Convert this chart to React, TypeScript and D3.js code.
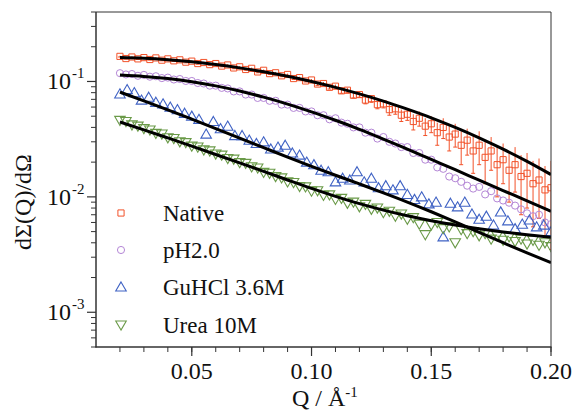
import React from "react";
import * as d3 from "d3";

// ---- data ----
const qFit = [0.02,0.03,0.04,0.05,0.06,0.07,0.08,0.09,0.10,0.11,0.12,0.13,0.14,0.15,0.16,0.17,0.18,0.19,0.20];
const nativeFit = [0.161,0.1589,0.1545,0.1483,0.1403,0.1312,0.1213,0.1109,0.100,0.0889,0.078,0.0675,0.0575,0.0484,0.040,0.0325,0.0259,0.0203,0.0156];
const ph2Fit = [0.1138,0.1107,0.1059,0.0995,0.0916,0.0826,0.0731,0.0637,0.0546,0.0461,0.0385,0.0317,0.0259,0.0211,0.0172,0.01396,0.01135,0.00923,0.0075];
const guhclFit = [0.0809,0.0679,0.0568,0.0472,0.0391,0.0323,0.0267,0.0221,0.0184,0.0154,0.01294,0.01084,0.00902,0.00743,0.00607,0.00493,0.00401,0.00327,0.00269];
const ureaFit = [0.0446,0.0381,0.0324,0.0275,0.0233,0.0197,0.01663,0.014,0.01183,0.0101,0.00873,0.00767,0.00685,0.00621,0.0057,0.0053,0.00497,0.00469,0.00446];

const qA = [0.02,0.0225,0.025,0.0275,0.03,0.0325,0.035,0.0375,0.04,0.0425,0.045,0.0475,0.05,0.0525,0.055,0.0575,0.06,0.0625,0.065,0.0675,0.07,0.0725,0.075,0.0775,0.08,0.0825,0.085,0.0875,0.09,0.0925,0.095,0.0975,0.1,0.1025,0.105,0.1075,0.11,0.1125,0.115,0.1175,0.12,0.1225,0.125,0.1275,0.13,0.1325,0.135,0.1375,0.14,0.1425,0.145,0.1475,0.15,0.1525,0.155,0.1575,0.16,0.1625,0.165,0.1675,0.17,0.1725,0.175,0.1775,0.18,0.1825,0.185,0.1875,0.19,0.1925,0.195,0.1975,0.2];
const qB = [0.02,0.023,0.026,0.029,0.032,0.035,0.038,0.041,0.044,0.047,0.05,0.053,0.056,0.059,0.062,0.065,0.068,0.071,0.074,0.077,0.08,0.083,0.086,0.089,0.092,0.095,0.098,0.101,0.104,0.107,0.11,0.113,0.116,0.119,0.122,0.125,0.128,0.131,0.134,0.137,0.14,0.143,0.146,0.149,0.152,0.155,0.158,0.161,0.164,0.167,0.17,0.173,0.176,0.179,0.182,0.185,0.188,0.191,0.194,0.197,0.2];

const nativeData = [0.165,0.158,0.163,0.157,0.161,0.155,0.160,0.153,0.157,0.151,0.154,0.147,0.150,0.143,0.146,0.140,0.143,0.136,0.139,0.131,0.134,0.127,0.130,0.121,0.125,0.117,0.119,0.112,0.115,0.106,0.108,0.101,0.103,0.095,0.096,0.089,0.091,0.083,0.084,0.076,0.077,0.069,0.071,0.063,0.064,0.057,0.058,0.051,0.052,0.045,0.048,0.041,0.043,0.036,0.040,0.033,0.035,0.028,0.031,0.025,0.028,0.022,0.025,0.019,0.021,0.017,0.019,0.015,0.016,0.013,0.014,0.0115,0.012];
const nativeErr = [0.002,0.002,0.002,0.002,0.002,0.002,0.002,0.002,0.002,0.002,0.002,0.002,0.002,0.002,0.002,0.002,0.002,0.002,0.002,0.002,0.002,0.002,0.002,0.002,0.002,0.002,0.002,0.002,0.002,0.002,0.002,0.002,0.002,0.003,0.003,0.003,0.003,0.004,0.004,0.004,0.004,0.005,0.005,0.005,0.005,0.006,0.006,0.006,0.006,0.007,0.007,0.007,0.007,0.008,0.008,0.008,0.008,0.009,0.008,0.009,0.009,0.009,0.008,0.009,0.008,0.008,0.008,0.008,0.008,0.0075,0.0075,0.007,0.0085];
const ph2Data = [0.118,0.115,0.116,0.112,0.114,0.110,0.111,0.107,0.108,0.104,0.105,0.101,0.101,0.097,0.096,0.092,0.092,0.088,0.087,0.082,0.082,0.077,0.077,0.072,0.072,0.068,0.068,0.063,0.063,0.059,0.059,0.055,0.055,0.051,0.051,0.047,0.048,0.044,0.043,0.040,0.040,0.036,0.036,0.032,0.033,0.030,0.029,0.027,0.027,0.024,0.024,0.021,0.021,0.018,0.0175,0.015,0.0145,0.0135,0.0125,0.0118,0.0122,0.0105,0.0112,0.0097,0.0093,0.0089,0.0084,0.0078,0.0072,0.0068,0.0070,0.0060,0.0058];
const guhclData = [0.078,0.085,0.080,0.069,0.073,0.066,0.064,0.060,0.057,0.053,0.050,0.047,0.035,0.045,0.039,0.041,0.034,0.034,0.031,0.029,0.030,0.026,0.027,0.028,0.024,0.023,0.020,0.019,0.017,0.0165,0.0135,0.0145,0.014,0.0165,0.0135,0.0145,0.012,0.0125,0.0115,0.0125,0.0105,0.0095,0.0100,0.0087,0.0090,0.0045,0.0088,0.0082,0.0090,0.0071,0.0064,0.0068,0.0057,0.0074,0.0062,0.0053,0.0058,0.0063,0.0055,0.0057,0.0050];
const ureaData = [0.046,0.045,0.042,0.041,0.039,0.038,0.0355,0.035,0.0325,0.032,0.030,0.0295,0.0275,0.027,0.0255,0.025,0.0235,0.023,0.0215,0.0212,0.0198,0.0195,0.0182,0.0178,0.0163,0.0160,0.0150,0.0146,0.0135,0.0133,0.0123,0.0122,0.0112,0.0113,0.0103,0.0104,0.0095,0.0097,0.0088,0.0090,0.0082,0.0086,0.0078,0.0080,0.0073,0.0075,0.0068,0.0071,0.0064,0.0066,0.0058,0.0047,0.0057,0.0060,0.0053,0.0055,0.0040,0.0052,0.0048,0.0050,0.0046,0.0048,0.0043,0.0046,0.0042,0.0045,0.0041,0.0043,0.0039,0.0042,0.0038,0.0040,0.0037];

const seriesNames = ["Native", "pH2.0", "GuHCl 3.6M", "Urea 10M"];
const seriesColors = ["#f2522a", "#b486d6", "#3f62c4", "#6a9a48"];
const xTicks = [0.05, 0.10, 0.15, 0.20];
const yTickExps = [-1, -2, -3];

const W = 574, H = 413;
const L = 96, R = 551, T = 12, B = 347;
const FONT = "Liberation Serif, DejaVu Serif, serif";
const TS = { fontFamily: FONT };

export default function App() {
  const x = d3.scaleLinear().domain([0.01, 0.2]).range([L, R]);
  const y = d3.scaleLog().domain([5e-4, 0.4]).range([B, T]);

  const line = d3.line<[number, number]>()
    .x((d) => x(d[0]))
    .y((d) => y(d[1]))
    .curve(d3.curveMonotoneX);

  const fits = [nativeFit, ph2Fit, guhclFit, ureaFit];

  const sym = (type: any, size: number) => d3.symbol().type(type).size(size)() as string;
  const squarePath = sym(d3.symbolSquare, 38);
  const circlePath = sym(d3.symbolCircle, 40);
  const triPath = sym(d3.symbolTriangle, 48);

  const markers = [
    (cx: number, cy: number, c: string, k: string) => (
      <path key={k} d={squarePath} transform={`translate(${cx},${cy})`} fill="none" stroke={c} strokeWidth={1} />
    ),
    (cx: number, cy: number, c: string, k: string) => (
      <path key={k} d={circlePath} transform={`translate(${cx},${cy})`} fill="none" stroke={c} strokeWidth={1} />
    ),
    (cx: number, cy: number, c: string, k: string) => (
      <path key={k} d={triPath} transform={`translate(${cx},${cy + 1})`} fill="none" stroke={c} strokeWidth={1.1} />
    ),
    (cx: number, cy: number, c: string, k: string) => (
      <path key={k} d={triPath} transform={`translate(${cx},${cy - 1}) rotate(180)`} fill="none" stroke={c} strokeWidth={1.1} />
    ),
  ];

  const xMinor = d3.range(2, 21).map((i) => i / 100);
  const yMinor: number[] = [];
  [1e-3, 1e-2, 1e-1].forEach((dec) => {
    for (let m = 2; m <= 9; m++) yMinor.push(m * dec);
  });
  yMinor.push(5e-4, 6e-4, 7e-4, 8e-4, 9e-4);
  const yMinorIn = yMinor.filter((v) => v >= 5e-4 && v <= 0.4001);

  const legendY = [213, 250, 287, 325];

  return (
    <svg width={W} height={H} style={{ position: "absolute", left: 0, top: 0, background: "#fff" }}>
      <rect x={0} y={0} width={W} height={H} fill="#fff" />
      <defs>
        <clipPath id="plotclip">
          <rect x={L} y={T} width={R - L} height={B - T} />
        </clipPath>
      </defs>

      <g clipPath="url(#plotclip)">
        {qA.map((q, i) => {
          const v = nativeData[i];
          const e = nativeErr[i];
          const lo = Math.max(v - e, 5e-4);
          const hi = v + e;
          const cx = x(q);
          return (
            <g key={"e" + i} stroke={seriesColors[0]} strokeWidth={1}>
              <line x1={cx} x2={cx} y1={y(lo)} y2={y(hi)} />
              <line x1={cx - 2} x2={cx + 2} y1={y(lo)} y2={y(lo)} />
            </g>
          );
        })}
        {qA.map((q, i) => markers[0](x(q), y(nativeData[i]), seriesColors[0], "n" + i))}
        {qA.map((q, i) => markers[1](x(q), y(ph2Data[i]), seriesColors[1], "p" + i))}
        {qB.map((q, i) => markers[2](x(q), y(guhclData[i]), seriesColors[2], "g" + i))}
        {qA.map((q, i) => markers[3](x(q), y(ureaData[i]), seriesColors[3], "u" + i))}

        {fits.map((f, k) => (
          <path key={"f" + k} d={line(qFit.map((q, i) => [q, f[i]] as [number, number])) as string}
            fill="none" stroke="#000" strokeWidth={3} />
        ))}
      </g>

      <line x1={L} x2={R} y1={T} y2={T} stroke="#333" strokeWidth={1} />
      <line x1={R} x2={R} y1={T} y2={B} stroke="#333" strokeWidth={1} />
      <line x1={L} x2={L} y1={T} y2={B + 0.5} stroke="#333" strokeWidth={1.5} />
      <line x1={L - 0.5} x2={R + 0.5} y1={B} y2={B} stroke="#333" strokeWidth={1.5} />

      {xMinor.map((q) => (
        <line key={"xm" + q} x1={x(q)} x2={x(q)} y1={B} y2={B + 5} stroke="#333" strokeWidth={1} />
      ))}
      {xTicks.map((q) => (
        <g key={"xt" + q}>
          <line x1={x(q)} x2={x(q)} y1={B} y2={B + 9} stroke="#333" strokeWidth={1.2} />
          <text x={x(q)} y={379} textAnchor="middle" fontSize={24} fill="#111" style={TS}>{q.toFixed(2)}</text>
        </g>
      ))}

      {yMinorIn.map((v, i) => (
        <line key={"ym" + i} x1={L - 5} x2={L} y1={y(v)} y2={y(v)} stroke="#333" strokeWidth={1} />
      ))}
      {yTickExps.map((e) => (
        <g key={"yt" + e}>
          <line x1={L - 9} x2={L} y1={y(Math.pow(10, e))} y2={y(Math.pow(10, e))} stroke="#333" strokeWidth={1.2} />
          <text x={71} y={y(Math.pow(10, e)) + 8} textAnchor="end" fontSize={24} fill="#111" style={TS}>10</text>
          <text x={72} y={y(Math.pow(10, e)) - 3} textAnchor="start" fontSize={15} fill="#111" style={TS}>{"-" + Math.abs(e)}</text>
        </g>
      ))}

      <text x={292} y={406} fontSize={24} fill="#111" style={TS}>
        Q / Å<tspan fontSize={15} dy={-9}>-1</tspan>
      </text>
      <text transform={`translate(31,${202}) rotate(-90)`} textAnchor="middle" fontSize={24} fill="#111" style={TS}>
        dΣ(Q)/dΩ
      </text>

      {seriesNames.map((n, k) => (
        <g key={"lg" + k}>
          {markers[k](121, legendY[k], seriesColors[k], "lm" + k)}
          <text x={163} y={legendY[k] + 8} fontSize={23} fill="#111" style={TS}>{n}</text>
        </g>
      ))}
    </svg>
  );
}
